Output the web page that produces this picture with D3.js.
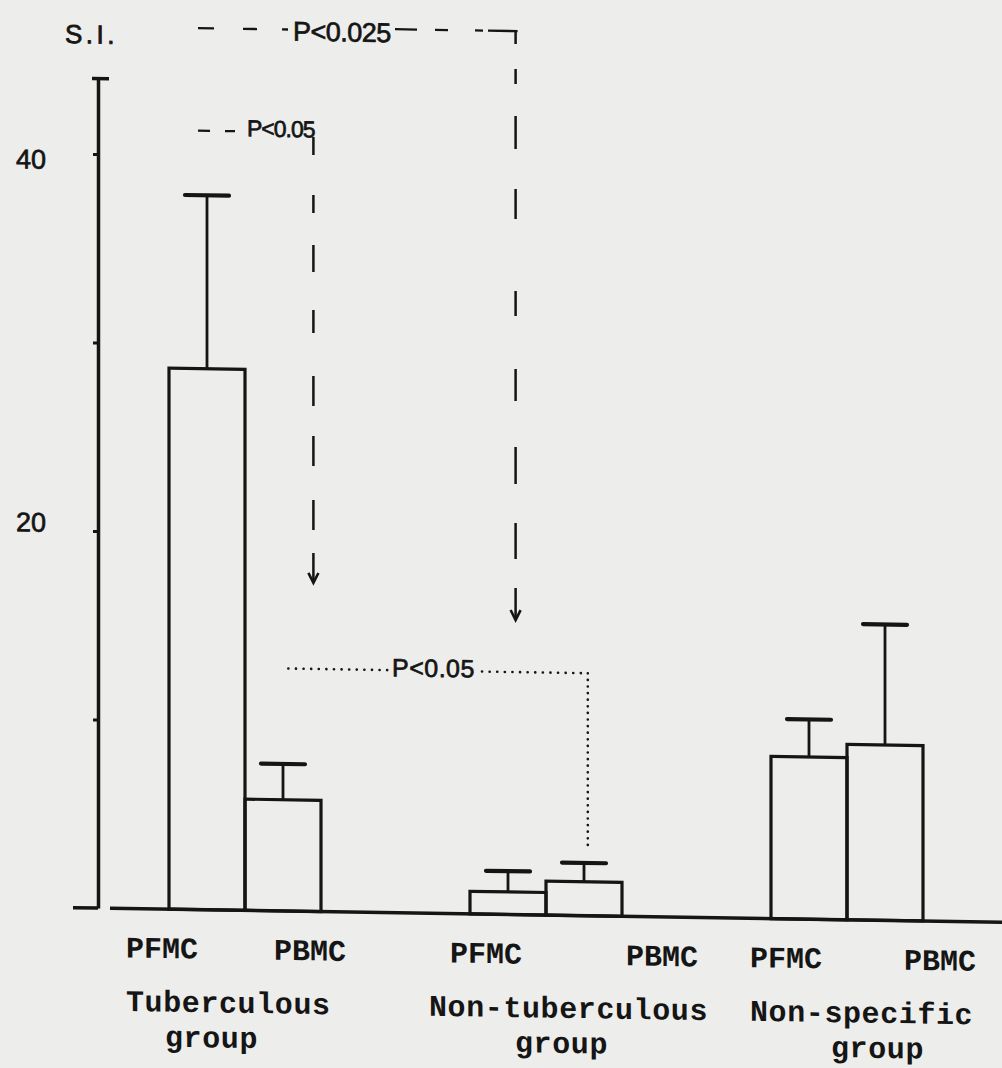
<!DOCTYPE html>
<html>
<head>
<meta charset="utf-8">
<script src="https://cdn.jsdelivr.net/npm/d3@7"></script>
<style>
  html, body { margin: 0; padding: 0; background: #ededeb; }
  svg { display: block; }
</style>
</head>
<body>
<svg id="chart" width="1002" height="1068"></svg>
<script>
// Stimulation index (S.I.) of pleural-fluid (PFMC) and peripheral-blood (PBMC)
// mononuclear cells, mean + SE, for three groups of pleural effusion.
const groupNames = ["Tuberculous group", "Non-tuberculous group", "Non-specific group"];
const groupLabelLines = [["Tuberculous", "group"], ["Non-tuberculous", "group"], ["Non-specific", "group"]];
const cellTypes = ["PFMC", "PBMC"];
const pfmcMean = [28.7, 1.2, 8.6];
const pfmcSE   = [9.2, 1.1, 2.0];
const pbmcMean = [5.9, 1.8, 9.3];
const pbmcSE   = [1.9, 1.0, 6.4];
const yTickValues = [10, 20, 30, 40];
const yTickLabels = ["", "20", "", "40"];
const yAxisMax = 44;
const yAxisTitle = "S.I.";
const pTop = "P<0.05";      // Tuberculous PFMC vs PBMC
const pLong = "P<0.025";    // Tuberculous PFMC vs Non-tuberculous PFMC
const pDotted = "P<0.05";   // Tuberculous PBMC vs Non-tuberculous PBMC

// ---- layout ----
const W = 1002, H = 1068;
const slant = 0.0157;              // the sheet runs slightly downhill to the right
const ink = "#151515";
const monoFont = "'Liberation Mono', 'Courier New', monospace";
const sansFont = "'Liberation Sans', Arial, sans-serif";

const svg = d3.select("#chart").attr("viewBox", `0 0 ${W} ${H}`);
svg.append("rect").attr("width", W).attr("height", H).attr("fill", "#ededeb");
const root = svg.append("g").attr("transform", `matrix(1,${slant},0,1,0,0)`);

const y = d3.scaleLinear().domain([0, yAxisMax]).range([906.5, 906.5 - yAxisMax * 18.85]);
const x0 = d3.scaleBand().domain(groupNames).range([169, 923]).paddingInner(0.495).paddingOuter(0);
const x1 = d3.scaleBand().domain(cellTypes).range([0, x0.bandwidth()]);
const bw = x1.bandwidth();

const rows = groupNames.flatMap((g, i) => [
  { group: g, cell: "PFMC", mean: pfmcMean[i], se: pfmcSE[i] },
  { group: g, cell: "PBMC", mean: pbmcMean[i], se: pbmcSE[i] }
]);

// ---- y axis ----
const axisX = 98;
const tickLabelDy = { 20: 1, 40: 15 };
const yAxis = d3.axisLeft(y)
  .tickValues(yTickValues)
  .tickSize(5)
  .tickSizeOuter(0)
  .tickPadding(47)
  .tickFormat((d, i) => yTickLabels[i]);
const gAxis = root.append("g").attr("transform", `translate(${axisX},0)`).call(yAxis);
gAxis.select(".domain").attr("stroke", ink).attr("stroke-width", 3.5);
gAxis.selectAll(".tick line").attr("stroke", ink).attr("stroke-width", 3);
gAxis.selectAll(".tick text")
  .attr("dy", d => tickLabelDy[d] || 0)
  .attr("fill", ink)
  .attr("stroke", ink).attr("stroke-width", 0.7)
  .attr("font-family", sansFont)
  .attr("font-size", 27);

// cap at the top of the axis and the short foot at zero
root.append("line")
  .attr("x1", axisX - 6).attr("x2", axisX + 11)
  .attr("y1", y(yAxisMax)).attr("y2", y(yAxisMax))
  .attr("stroke", ink).attr("stroke-width", 3.5);
root.append("line")
  .attr("x1", 73).attr("x2", axisX)
  .attr("y1", y(0)).attr("y2", y(0))
  .attr("stroke", ink).attr("stroke-width", 3.5);

root.append("text")
  .attr("x", 65).attr("y", 42)
  .attr("font-family", sansFont).attr("font-size", 26)
  .attr("letter-spacing", 3.5)
  .attr("fill", ink).attr("stroke", ink).attr("stroke-width", 0.8)
  .text(yAxisTitle);

// ---- baseline ----
root.append("line")
  .attr("x1", 110).attr("x2", W + 2)
  .attr("y1", y(0)).attr("y2", y(0))
  .attr("stroke", ink).attr("stroke-width", 3.5);

// ---- bars ----
const barX = d => x0(d.group) + x1(d.cell);
root.append("g").selectAll("rect").data(rows).join("rect")
  .attr("x", barX)
  .attr("y", d => y(d.mean))
  .attr("width", bw)
  .attr("height", d => y(0) - y(d.mean))
  .attr("fill", "none")
  .attr("stroke", ink)
  .attr("stroke-width", 3.2);

// ---- SE whiskers ----
const capHalf = 22;
const whisk = root.append("g").selectAll("g").data(rows).join("g");
whisk.append("line")
  .attr("x1", d => barX(d) + bw / 2).attr("x2", d => barX(d) + bw / 2)
  .attr("y1", d => y(d.mean)).attr("y2", d => y(d.mean + d.se))
  .attr("stroke", ink).attr("stroke-width", 2.8);
whisk.append("line")
  .attr("x1", d => barX(d) + bw / 2 - capHalf).attr("x2", d => barX(d) + bw / 2 + capHalf)
  .attr("y1", d => y(d.mean + d.se)).attr("y2", d => y(d.mean + d.se))
  .attr("stroke", ink).attr("stroke-width", 4.2).attr("stroke-linecap", "round");

// ---- category labels ----
const cellLabelDx = [[-43, 105], [-20, 156], [-21, 133]];
const groupLabelDx = [[-43, -4], [-41, 45], [-21, 60]];
const labels = root.append("g")
  .attr("font-family", monoFont).attr("font-weight", "bold")
  .attr("font-size", 30).attr("fill", ink);
groupNames.forEach((g, i) => {
  const gx = x0(g);
  cellTypes.forEach((c, j) => {
    labels.append("text").attr("x", gx + cellLabelDx[i][j]).attr("y", 955.5).text(c);
  });
  labels.append("text").attr("x", gx + groupLabelDx[i][0]).attr("y", 1009).attr("letter-spacing", 0.6)
    .text(groupLabelLines[i][0]);
  labels.append("text").attr("x", gx + groupLabelDx[i][1]).attr("y", 1044).attr("letter-spacing", 0.6)
    .text(groupLabelLines[i][1]);
});

// ---- significance brackets ----
const ann = root.append("g").attr("fill", "none").attr("stroke", ink);

function arrowHead(x, yTip) {
  ann.append("path")
    .attr("d", `M${x - 5},${yTip - 10}L${x},${yTip}L${x + 5},${yTip - 10}`)
    .attr("stroke-width", 2.6).attr("stroke-linejoin", "miter");
}
function seg(xa, ya, xb, yb, dash, w) {
  ann.append("line")
    .attr("x1", xa).attr("y1", ya).attr("x2", xb).attr("y2", yb)
    .attr("stroke-width", w || 2.5)
    .attr("stroke-dasharray", dash);
}
function label(x, yb, txt, size, spacing) {
  root.append("text")
    .attr("x", x).attr("y", yb)
    .attr("font-family", sansFont).attr("font-size", size)
    .attr("letter-spacing", spacing)
    .attr("fill", ink).attr("stroke", ink).attr("stroke-width", 0.7)
    .text(txt);
}

// Tuberculous PFMC vs PBMC
const tubPBMCx = x0(groupNames[0]) + x1("PBMC") + 0.9 * bw;
seg(198, 127.5, 235, 127.5, "12 15 10", 2.3);
label(247, 132.5, pTop, 23, -1);
seg(tubPBMCx, 132, tubPBMCx, 578, "18 40 18 32 27 38 23 43 30 30 30 34 30 23 30");
arrowHead(tubPBMCx, 578);

// Tuberculous PFMC vs Non-tuberculous PFMC
const ntPFMCx = x0(groupNames[1]) + x1("PFMC") + 0.6 * bw;
seg(198, 25, 288, 25, "16 29 14 25 6", 2.3);
label(293, 36, pLong, 27, -0.5);
seg(395, 23, ntPFMCx + 2, 23, "22 18 13 27 8 5 30", 2.3);
seg(ntPFMCx, 23, ntPFMCx, 612, "13 25 15 32 33 40 30 72 25 53 32 46 37 39 36 29 33");
arrowHead(ntPFMCx, 612);

// Tuberculous PBMC vs Non-tuberculous PBMC (dotted)
const dotL = x0(groupNames[0]) + x1("PBMC") + 0.57 * bw;
const dotR = x0(groupNames[1]) + x1("PBMC") + 0.55 * bw;
const dotY = 664;
ann.append("line").attr("x1", dotL).attr("x2", 388).attr("y1", dotY).attr("y2", dotY)
  .attr("stroke-width", 2.6).attr("stroke-linecap", "round").attr("stroke-dasharray", "0.1 7.5");
label(392, 670, pDotted, 25, 0.5);
ann.append("line").attr("x1", 482).attr("x2", dotR).attr("y1", dotY).attr("y2", dotY)
  .attr("stroke-width", 2.6).attr("stroke-linecap", "round").attr("stroke-dasharray", "0.1 7.5");
ann.append("line").attr("x1", dotR).attr("x2", dotR).attr("y1", dotY).attr("y2", 839)
  .attr("stroke-width", 2.6).attr("stroke-linecap", "round").attr("stroke-dasharray", "0.1 6.5");
</script>
</body>
</html>
